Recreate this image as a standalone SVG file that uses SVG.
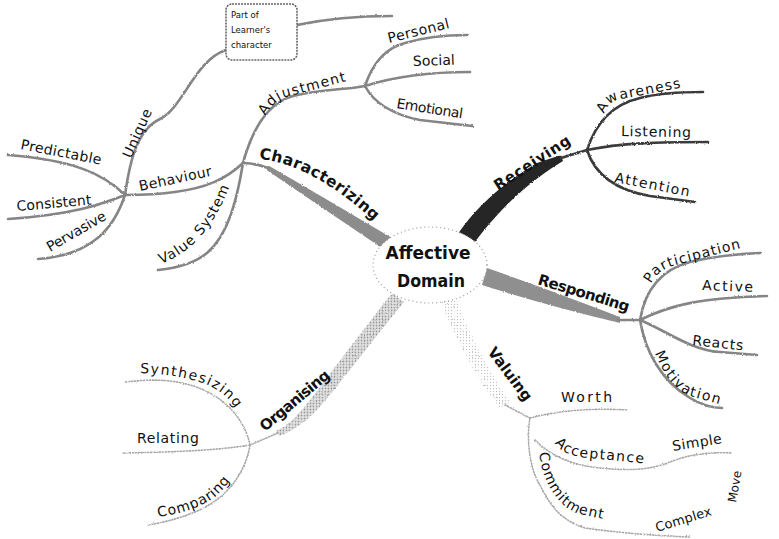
<svg xmlns="http://www.w3.org/2000/svg" width="779" height="539" viewBox="0 0 779 539">
<style>
.ln{fill:none;stroke:#858585;stroke-width:2.6;stroke-linecap:round}
.dk{stroke:#3a3a3a}
.dt{fill:none;stroke:#a8a8a8;stroke-width:1.6;stroke-dasharray:1.2 1.8;stroke-linecap:round}
.t{font-family:"DejaVu Sans","Liberation Sans",sans-serif;font-size:14px;fill:#111}
.b{font-weight:bold;font-size:15px}
.c{font-size:17px;font-weight:bold;text-anchor:middle}
.s{font-size:8.5px}
</style>
<defs>
<filter id="rough" x="-5%" y="-5%" width="110%" height="110%">
<feTurbulence type="fractalNoise" baseFrequency="0.9" numOctaves="2" seed="3" result="n"/>
<feDisplacementMap in="SourceGraphic" in2="n" scale="2.2" xChannelSelector="R" yChannelSelector="G"/>
</filter>
<pattern id="speck" width="3" height="3" patternUnits="userSpaceOnUse">
<rect width="3" height="3" fill="#e4e4e4"/>
<circle cx="1.5" cy="1.5" r="0.9" fill="#9a9a9a"/>
</pattern>
<pattern id="speck2" width="3" height="3" patternUnits="userSpaceOnUse">
<circle cx="1.5" cy="1.5" r="0.7" fill="#c4c4c4"/>
</pattern>
<path id="pAdj" d="M265,116 C272,104 280,98 290,96 L362,77"/>
<path id="pChar" d="M259,159 Q312,164 375,222 L382,229"/>
<path id="pVal" d="M161,264 Q207,247 231,183 L234,172"/>
<path id="pAwa" d="M604,114 C608,104 614,100 622,99 L705,83"/>
<path id="pPar" d="M651,284 C656,274 664,268 676,265 L760,243"/>
<path id="pMot" d="M655,353 C662,371 672,388 690,396 L740,410"/>
<path id="pAcc" d="M555,443 C561,452 572,457 590,458 L660,465"/>
<path id="pCom" d="M539,453 C543,482 557,507 580,514 L625,524"/>
<path id="pSyn" d="M140,373 C165,374 195,378 212,387 C225,394 232,402 238,412 L246,424"/>
<path id="pCmp" d="M158,517 C180,514 200,508 215,497 C222,491 228,484 234,475 L242,464"/>
</defs>
<rect width="779" height="539" fill="#fff"/>

<g id="connectors" filter="url(#rough)">
<!-- main bands -->
<path d="M269.3,165.9 Q330,201 393.7,239.1 L386.3,250.9 Q325,210 266.7,170.1 Z" fill="#8c8c8c"/>
<path d="M268,168 Q255,163 243,163" class="ln"/>
<path d="M458,234 C470,216 492,190 537,163 L561,155 L563,161 C540,175 505,200 472,246 Z" fill="#262626"/>
<path d="M561,158 L587,150" class="ln dk"/>
<path d="M487,268 Q545,288 620,317 L620,323 Q545,305 482,285 Z" fill="#8f8f8f"/>
<path d="M618,320 L640,320" class="ln"/>
<path d="M392,293 C375,315 340,360 318,390 C300,413 290,425 276,431 L279,436 C295,430 310,420 330,395 C350,370 385,325 404,302 Z" fill="url(#speck)"/>
<path d="M278,433 L250,445" class="dt"/>
<path d="M440,300 C452,330 470,370 500,408 L510,402 C485,365 465,325 456,298 Z" fill="url(#speck2)"/>
<path d="M505,405 L530,418" class="dt"/>
<!-- characterizing subtree -->
<path d="M243,163 C252,130 268,103 293,96 C320,89 345,90 365,86" class="ln"/>
<path d="M243,163 C237,200 228,235 207,253 C195,263 178,268 158,270" class="ln"/>
<path d="M243,163 C225,180 205,188 175,192 C155,195 140,195 125,195" class="ln"/>
<path d="M125,195 C130,160 137,130 160,119 C183,108 195,60 226,50" class="ln"/>
<path d="M125,195 C105,175 75,160 8,155" class="ln"/>
<path d="M125,195 C100,205 70,215 8,219" class="ln"/>
<path d="M125,195 C115,225 95,255 38,259" class="ln"/>
<path d="M297,25 C330,18 360,16 392,16" class="ln"/>
<path d="M365,86 C372,65 385,48 405,43 C425,37 445,35 467,35" class="ln"/>
<path d="M365,86 C390,78 420,72 470,72" class="ln"/>
<path d="M365,86 C375,105 395,115 420,120 L472,126" class="ln"/>
<!-- receiving subtree -->
<path d="M587,150 C595,125 610,105 640,98 C660,93 680,92 703,92" class="ln dk"/>
<path d="M587,150 C620,143 660,142 708,142" class="ln dk"/>
<path d="M587,150 C595,175 615,190 650,196 L695,202" class="ln dk"/>
<!-- responding subtree -->
<path d="M640,320 C645,290 660,270 690,262 C715,256 735,254 760,253" class="ln"/>
<path d="M640,320 C670,305 700,298 767,296" class="ln"/>
<path d="M640,320 C665,330 690,350 720,352 L757,355" class="ln"/>
<path d="M640,320 C645,350 660,380 690,398 C700,404 710,408 722,408" class="ln"/>
<!-- organising subtree -->
<path d="M250,445 C245,420 225,395 190,385 C165,378 145,380 125,382" class="dt"/>
<path d="M250,445 C220,450 180,452 123,453" class="dt"/>
<path d="M250,445 C245,475 225,500 195,512 C175,520 160,523 148,525" class="dt"/>
<!-- valuing subtree -->
<path d="M530,418 C560,410 595,408 627,410" class="dt"/>
<path d="M530,418 C526,440 530,470 540,485 C550,505 560,520 585,528 C620,533 660,536 690,537" class="dt"/>
<path d="M535,440 C550,455 570,465 600,468 C630,471 650,470 670,462 C690,454 710,452 732,453" class="dt"/>
</g>

<g id="center">
<ellipse cx="430" cy="265" rx="57" ry="38" fill="#fff" stroke="#9a9a9a" stroke-width="1.2" stroke-dasharray="1 3"/>
<text class="t c" x="428" y="259" textLength="85" lengthAdjust="spacingAndGlyphs">Affective</text>
<text class="t c" x="431" y="287" textLength="68" lengthAdjust="spacingAndGlyphs">Domain</text>
</g>

<g id="characterizing"><text class="t b" style="font-size:15.5px" letter-spacing="0.4"><textPath href="#pChar">Characterizing</textPath></text></g>
<g id="receiving"><text class="t b" x="498" y="191" transform="rotate(-33 498 191)" textLength="88">Receiving</text></g>
<g id="responding"><text class="t b" x="537" y="284" transform="rotate(17 537 284)" textLength="95">Responding</text></g>
<g id="valuing"><text class="t b" x="487" y="352" transform="rotate(53 487 352)" textLength="63">Valuing</text></g>
<g id="organising"><text class="t b" x="265" y="432" transform="rotate(-40 265 432)" textLength="86">Organising</text></g>

<g id="adjustment"><text class="t" letter-spacing="1.2"><textPath href="#pAdj">Adjustment</textPath></text></g>
<g id="value-system"><text class="t" letter-spacing="1"><textPath href="#pVal">Value System</textPath></text></g>
<g id="behaviour"><text class="t" x="140" y="191" transform="rotate(-12 140 191)" textLength="74">Behaviour</text></g>
<g id="unique"><text class="t" x="131" y="159" transform="rotate(-66 131 159)" textLength="52">Unique</text></g>
<g id="predictable"><text class="t" x="20" y="149" transform="rotate(11 20 149)" textLength="82">Predictable</text></g>
<g id="consistent"><text class="t" x="17" y="211" transform="rotate(-5 17 211)" textLength="75">Consistent</text></g>
<g id="pervasive"><text class="t" x="50" y="252" transform="rotate(-30 50 252)" textLength="66">Pervasive</text></g>
<g id="character-box">
<rect x="226" y="4" width="71" height="56" rx="6" fill="#fff" stroke="#666" stroke-width="1.6" stroke-dasharray="2 1"/>
<text class="t s" x="231" y="18">Part of</text>
<text class="t s" x="231" y="33">Learner's</text>
<text class="t s" x="231" y="48">character</text>
</g>
<g id="personal"><text class="t" x="389" y="43" transform="rotate(-14 389 43)" textLength="63">Personal</text></g>
<g id="social"><text class="t" x="413" y="66" transform="rotate(-2 413 66)" textLength="42">Social</text></g>
<g id="emotional"><text class="t" x="396" y="108" transform="rotate(9 396 108)" textLength="67">Emotional</text></g>

<g id="awareness"><text class="t" letter-spacing="1.2"><textPath href="#pAwa">Awareness</textPath></text></g>
<g id="listening"><text class="t" x="621" y="136" transform="rotate(1 621 136)" textLength="70">Listening</text></g>
<g id="attention"><text class="t" x="614" y="182" transform="rotate(11 614 182)" textLength="76">Attention</text></g>

<g id="participation"><text class="t" letter-spacing="1"><textPath href="#pPar">Participation</textPath></text></g>
<g id="active"><text class="t" x="702" y="290" transform="rotate(2 702 290)" textLength="51">Active</text></g>
<g id="reacts"><text class="t" x="692" y="345" transform="rotate(6 692 345)" textLength="51">Reacts</text></g>
<g id="motivation"><text class="t" letter-spacing="1.5"><textPath href="#pMot">Motivation</textPath></text></g>

<g id="worth"><text class="t" x="561" y="402" textLength="51">Worth</text></g>
<g id="acceptance"><text class="t" letter-spacing="1.3"><textPath href="#pAcc">Acceptance</textPath></text></g>
<g id="simple"><text class="t" x="673" y="451" transform="rotate(-9 673 451)" textLength="50">Simple</text></g>
<g id="commitment"><text class="t" letter-spacing="1"><textPath href="#pCom">Commitment</textPath></text></g>
<g id="complex"><text class="t" style="font-size:13px" x="657" y="532" transform="rotate(-17 657 532)" textLength="58">Complex</text></g>
<g id="move"><text class="t" style="font-size:12px" x="736" y="503" transform="rotate(-80 736 503)" textLength="32">Move</text></g>

<g id="synthesizing"><text class="t" letter-spacing="1.5"><textPath href="#pSyn">Synthesizing</textPath></text></g>
<g id="relating"><text class="t" x="137" y="443" textLength="62">Relating</text></g>
<g id="comparing"><text class="t" letter-spacing="0.8"><textPath href="#pCmp">Comparing</textPath></text></g>
</svg>
